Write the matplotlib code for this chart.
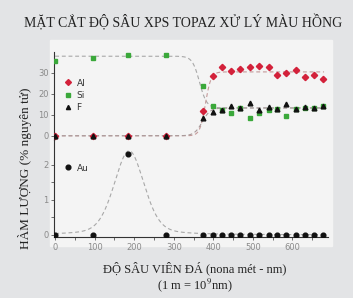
import numpy as np
import matplotlib
matplotlib.use("Agg")
import matplotlib.pyplot as plt
from matplotlib.patches import Rectangle
from matplotlib.lines import Line2D

# depth (nm)
depth = [0, 95, 185, 280, 375, 398, 422, 445, 468, 492, 515, 540, 562, 585, 608, 632, 655, 678]
al = [0, 0, 0, 0, 11.9, 28.6, 33.0, 31.0, 32.0, 33.0, 33.5, 33.0, 29.0, 30.0, 31.4, 28.0, 29.0, 27.0]
si = [35.5, 37.0, 38.5, 38.5, 23.8, 14.3, 12.4, 11.0, 13.3, 8.6, 11.0, 12.4, 12.9, 9.5, 12.9, 13.3, 13.3, 14.0]
f = [0, 0, 0, 0, 8.6, 11.4, 12.4, 14.3, 13.3, 15.7, 12.4, 13.8, 12.9, 15.2, 12.9, 13.8, 13.3, 14.3]
au = [0, 0, 2.3, 0, 0, 0, 0, 0, 0, 0, 0, 0, 0, 0, 0, 0, 0, 0]

# fitted trend lines (step levels, centre, width)
si_fit = (38.0, 13.3, 365, 9)
al_fit = (0.0, 30.5, 380, 7)
f_fit = (0.0, 13.3, 372, 10)
au_fit = (2.4, 187, 45, 0.3)

def step(x, hi, lo, x0, w):
    return lo + (hi - lo) / (1 + np.exp((x - x0) / w))

def peak(x, a, x0, hw, eta):
    d = (x - x0) / hw
    return a * (eta / (1 + d**2) + (1 - eta) * np.exp(-np.log(2) * d**2))

plt.rcParams['font.family'] = ['DejaVu Sans']
fig = plt.figure(figsize=(3.53, 2.98), dpi=100, facecolor='#e3e4e6')
fig.patches.append(Rectangle((50/353, 1-246/298), 282/353, 206/298,
                             transform=fig.transFigure, color='#f4f4f4', zorder=-5))

ax1 = fig.add_axes([54/353, 1-140/298, 274/353, 88/298])
ax2 = fig.add_axes([54/353, 1-237/298, 274/353, 97/298], sharex=ax1)
for ax in (ax1, ax2):
    ax.set_facecolor('none')
    for s in ('top', 'right'):
        ax.spines[s].set_visible(False)
    ax.spines['left'].set_color('#333333')
    ax.spines['left'].set_linewidth(0.8)
    ax.tick_params(axis='both', colors='#555555', labelcolor='#8a8a8a',
                   labelsize=6, length=2.5, width=0.6, pad=1.5)

xs = np.linspace(0, 680, 600)
dash = (0, (3.5, 2.5))
ax1.plot(xs, step(xs, *si_fit), ls=dash, color='#a8a8a8', lw=0.8)
ax1.plot(xs, step(xs, *al_fit), ls=dash, color='#c49a9a', lw=0.8)
ax1.plot(xs, step(xs, *f_fit), ls=dash, color='#a89a9a', lw=0.8)
ax1.plot(depth, si, 's', color='#3aa83a', ms=3.2, label='Si', zorder=3)
ax1.plot(depth, al, 'D', color='#d3213a', ms=3.2, label='Al', zorder=3)
ax1.plot(depth, f, '^', color='#111111', ms=3.4, label='F', zorder=4)
ax1.set_ylim(-2, 40)
ax1.set_yticks([0, 10, 20, 30])
ax1.spines['bottom'].set_visible(False)
h = [Line2D([], [], ls='none', marker='D', color='#d3213a', ms=3),
     Line2D([], [], ls='none', marker='s', color='#3aa83a', ms=3),
     Line2D([], [], ls='none', marker='^', color='#111111', ms=3)]
ax1.legend(h, ['Al', 'Si', 'F'], loc='upper left', bbox_to_anchor=(0.01, 0.79),
           frameon=False, fontsize=6.5, handlelength=0.8, handletextpad=0.5,
           labelspacing=0.35, labelcolor='#333333')

ax2.plot(xs, peak(xs, *au_fit), ls=dash, color='#a8a8a8', lw=0.8)
ax2.plot(depth, au, 'o', color='#111111', ms=3.4, label='Au', zorder=3)
ax2.set_ylim(-0.06, 2.71)
ax2.set_yticks([0, 1, 2])
ax2.set_yticks([0.5, 1.5], minor=True)
ax2.tick_params(axis='y', which='minor', length=2.5, width=0.6, colors='#555555')
ax2.set_xlim(-3, 690)
ax2.set_xticks([0, 100, 200, 300, 400, 500, 600])
ax2.set_xticks([50, 150, 250, 350, 450, 550, 650], minor=True)
ax2.tick_params(axis='x', which='minor', length=2.5, width=0.6, colors='#555555')
ax2.spines['bottom'].set_color('#333333')
ax2.spines['bottom'].set_linewidth(0.8)
ax2.legend(loc='upper left', bbox_to_anchor=(0.01, 0.84), frameon=False,
           fontsize=6.5, handlelength=0.8, handletextpad=0.5, labelcolor='#333333')
ax1.tick_params(axis='x', which='both', bottom=False, labelbottom=False)

serif = ['Liberation Serif', 'DejaVu Serif']
fig.text(0.52, 0.925, 'MẶT CẮT ĐỘ SÂU XPS TOPAZ XỬ LÝ MÀU HỒNG', ha='center',
         va='center', fontsize=10, family=serif, color='#222222')
fig.text(25/353, 1-168/298, 'HÀM LƯỢNG (% nguyên tử)', rotation=90, ha='center',
         va='center', fontsize=9.5, family=serif, color='#222222')
fig.text(195/353, 1-268/298, 'ĐỘ SÂU VIÊN ĐÁ (nona mét - nm)', ha='center',
         va='center', fontsize=9, family=serif, color='#222222')
fig.text(195/353, 1-285/298, '(1 m = 10$^9$nm)', ha='center', va='center',
         fontsize=9, family=serif, color='#222222', math_fontfamily='stix')

fig.savefig('out.png', dpi=100, facecolor=fig.get_facecolor())
